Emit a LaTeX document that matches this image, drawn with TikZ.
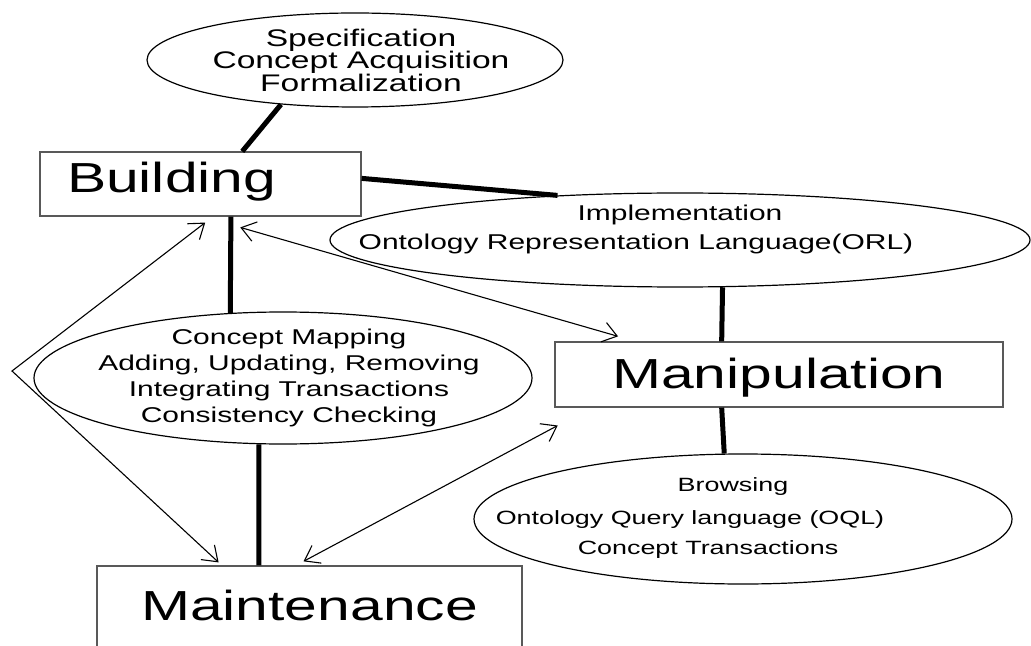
\documentclass[tikz,border=0pt]{standalone}
\usepackage{fontspec}
\setmainfont{Liberation Sans}
\usepackage{graphicx}
\usetikzlibrary{shapes,arrows.meta}
\newcommand{\stretchtext}[1]{\scalebox{1.4}[1]{#1}}

\begin{document}
\begin{tikzpicture}[x=0.5pt,y=-0.5pt,
  oval/.style={ellipse,draw=black,line width=0.6pt,inner sep=0pt},
  stage/.style={rectangle,draw=black!65,line width=0.6pt,inner sep=0pt,text height=15.5pt,font=\fontsize{21}{25}\selectfont},
  txt/.style={anchor=base,inner sep=0pt},
  link/.style={line width=2.5pt},
  flow/.style={line width=0.55pt,{Straight Barb[length=7pt,width=10pt]}-{Straight Barb[length=7pt,width=10pt]}}]
\path[use as bounding box,clip] (0,0) rectangle (1031,646);
% Draw the ellipses
\node[oval,minimum width=208pt,minimum height=47pt] (spec) at (355,60) {};
\node[oval,minimum width=249pt,minimum height=66pt] (mapping) at (283,378) {};
\node[oval,minimum width=350pt,minimum height=47pt] (impl) at (680,240) {};
\node[oval,minimum width=269pt,minimum height=65pt] (browse) at (743,519) {};
% Draw the boxes
\node[stage,minimum width=160.5pt,minimum height=32pt,text width=133.5pt,inner xsep=13.5pt,align=left,text depth=6.5pt] (build) at (200.5,184) {\stretchtext{Building}};
\node[stage,minimum width=224pt,minimum height=32.5pt,text depth=2pt] (manip) at (779,374.5) {\stretchtext{Manipulation}};
\node[stage,minimum width=212.5pt,minimum height=50pt,text depth=11.5pt] (maint) at (309.5,616) {\stretchtext{Maintenance}};
% Write the texts in the ellipses
\foreach \t [count=\i] in {Specification,Concept Acquisition,Formalization}
  \node[txt,font=\fontsize{12}{14}\selectfont] (spec\i) at (361,{24+22.5*\i}) {\stretchtext{\t}};
\foreach \t [count=\i] in {Concept Mapping,{Adding, Updating, Removing},Integrating Transactions,Consistency Checking}
  \node[txt,font=\fontsize{10.7}{13}\selectfont] (mapping\i) at (289,{318.5+26*\i}) {\stretchtext{\t}};
\foreach \t/\x/\y [count=\i] in {Implementation/680/221,Ontology Representation Language(ORL)/636/250}
  \node[txt,font=\fontsize{10.7}{13}\selectfont] (impl\i) at (\x,\y) {\stretchtext{\t}};
\foreach \t/\x/\y [count=\i] in {Browsing/733/491,Ontology Query language (OQL)/690/524,Concept Transactions/708/554}
  \node[txt,font=\fontsize{9.6}{12}\selectfont] (browse\i) at (\x,\y) {\stretchtext{\t}};
% Draw the thick links
\draw[link] (spec.211.9) -- (build.38.3);
\draw[link] (build.2.5) -- (impl.160);
\draw[link] (build.-47.3) -- (mapping.129.4);
\draw[link] (mapping.-110.8) -- (maint.135.8);
\draw[link] (impl.-48) -- (manip.150.3);
\draw[link] (manip.210.6) -- (browse.106.3);
% Draw the thin arrows
\coordinate (bend) at (12,371);
\draw[flow,shorten <=4.9pt,shorten >=2.2pt] (build.-69) -- (bend) -- (maint.150.75);
\draw[flow,shorten <=19.5pt,shorten >=9.1pt] (build.-86.4) -- (manip.167.5);
\draw[flow,shorten <=4.3pt,shorten >=19pt] (maint.105.9) -- (manip.190.5);
\end{tikzpicture}
\end{document}
